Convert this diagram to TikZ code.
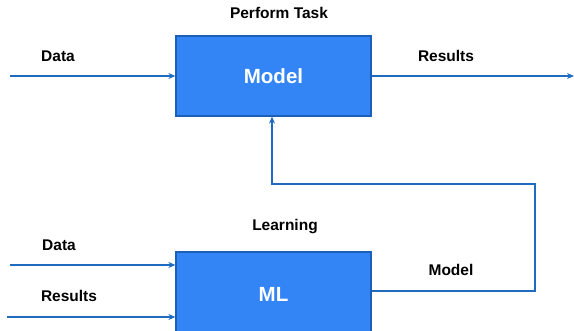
\documentclass[tikz,border=0pt]{standalone}
\usepackage{fontspec}
\setmainfont{Liberation Sans}
\usetikzlibrary{arrows.meta}
\definecolor{boxfill}{HTML}{3385F6}
\definecolor{boxline}{HTML}{1B5FB8}
\definecolor{linec}{HTML}{1E6BBF}
\begin{document}
\begin{tikzpicture}[x=1pt,y=-1pt,
  blk/.style={draw=boxline,line width=1.2pt,fill=boxfill,minimum width=195pt,inner sep=0pt,
    text=white,font=\bfseries\fontsize{20.5}{23}\selectfont},
  lbl/.style={font=\bfseries\fontsize{15.5}{18}\selectfont,text=black,inner sep=0pt},
  arr/.style={draw=linec,line width=1.5pt,-{Stealth[length=7pt,width=6pt]}}]
\useasboundingbox (0,0) rectangle (574,330);
\clip (0,0) rectangle (574,330);
\node[blk,minimum height=80pt] (model) at (273.5,76) {Model};
\node[blk,minimum height=84pt] (ml) at (273.5,294) {ML};
% labels
\node[lbl] (pt) at (279,13) {Perform Task};
\node[lbl] (d1) at (58,56) {Data};
\node[lbl] (r1) at (446,56) {Results};
\node[lbl] (lrn) at (285,227) {Learning};
\node[lbl] (d2) at (59,245) {Data};
\node[lbl] (r2) at (69,296) {Results};
\node[lbl] (m2) at (451,270) {Model};
% coordinates
\coordinate (a1) at (10,76);
\coordinate (a2) at (574,76);
\coordinate (b1) at (10,265);
\coordinate (b2) at (7,317);
\coordinate (f1) at (535,291);
\coordinate (f2) at (535,184);
\coordinate (f3) at (272,184);
% connectors
\draw[arr] (a1) -- (model.west |- a1);
\draw[arr] (model.east |- a2) -- (a2);
\draw[arr] (b1) -- (ml.west |- b1);
\draw[arr] (b2) -- (ml.west |- b2);
\draw[arr] (ml.east |- f1) -- (f1) -- (f2) -- (f3) -- (f3 |- model.south);
\end{tikzpicture}
\end{document}
